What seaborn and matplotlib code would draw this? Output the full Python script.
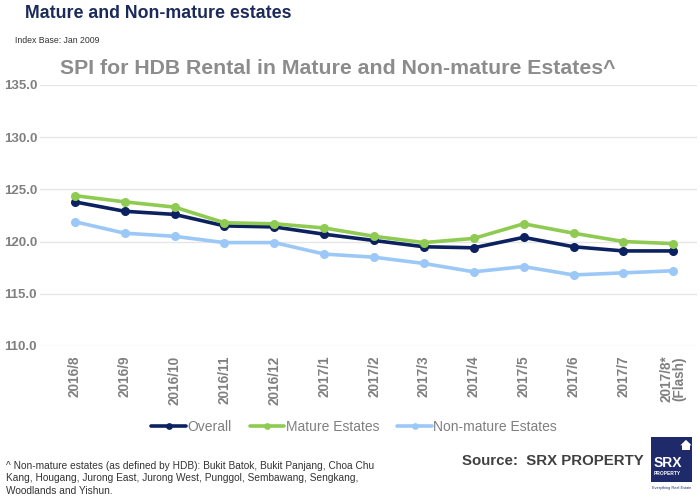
import pandas as pd
import numpy as np
import matplotlib
matplotlib.use('Agg')
import matplotlib.pyplot as plt
import seaborn as sns
from matplotlib.patches import Rectangle, Polygon

# Data
months = ['2016/8', '2016/9', '2016/10', '2016/11', '2016/12', '2017/1', '2017/2',
          '2017/3', '2017/4', '2017/5', '2017/6', '2017/7', '2017/8*\n(Flash)']
overall = [123.8, 122.9, 122.6, 121.5, 121.4, 120.7, 120.1, 119.5, 119.4, 120.4, 119.5, 119.1, 119.1]
mature = [124.4, 123.8, 123.3, 121.8, 121.7, 121.3, 120.5, 119.9, 120.3, 121.7, 120.8, 120.0, 119.8]
non_mature = [121.9, 120.8, 120.5, 119.9, 119.9, 118.8, 118.5, 117.9, 117.1, 117.6, 116.8, 117.0, 117.2]

series_names = ['Overall', 'Mature Estates', 'Non-mature Estates']
colors = ['#0c2160', '#8fcb52', '#9cc8f8']

df = pd.DataFrame({
    'pos': list(range(len(months))) * 3,
    'value': overall + mature + non_mature,
    'series': [s for s in series_names for _ in months],
})

sns.set_style("white")
plt.rcParams['font.family'] = ['Liberation Sans', 'DejaVu Sans']

fig = plt.figure(figsize=(7, 4.97), dpi=100)
ax = fig.add_axes([0.057, 0.304, 0.939, 0.525])

sns.lineplot(data=df, x='pos', y='value', hue='series', hue_order=series_names,
             palette=colors, marker='o', markersize=6.5, markeredgewidth=0,
             linewidth=2.6, ax=ax, legend=True)

yticks = [110, 115, 120, 125, 130, 135]
ax.set_ylim(110, 135)
ax.set_xlim(-0.7, 12.48)
ax.set_yticks(yticks)
ax.set_yticklabels([f'{v:.1f}' for v in yticks],
                   fontsize=9.5, fontweight='bold', color='#808080')
ax.set_xticks(range(len(months)))
ax.set_xticklabels(months, rotation=90, fontsize=9.8, fontweight='bold',
                   color='#808080', linespacing=0.9)
ax.tick_params(axis='y', length=0, pad=2)
ax.tick_params(axis='x', length=0, pad=7)
ax.set_xlabel('')
ax.set_ylabel('')
ax.grid(axis='y', color='#e6e6e6', linewidth=1)
for s in ax.spines.values():
    s.set_visible(False)

handles, labels = ax.get_legend_handles_labels()
ax.get_legend().remove()
leg = fig.legend(handles, labels, loc='center', bbox_to_anchor=(0.506, 0.141), ncol=3,
                 frameon=False, fontsize=10, handlelength=2.5, handletextpad=0.1,
                 columnspacing=1.3, markerscale=0.75)
for t in leg.get_texts():
    t.set_color('#7f7f7f')

# Titles
fig.text(0.036, 0.99, 'Mature and Non-mature estates', fontsize=12.8,
         fontweight='bold', color='#1b2a5a', va='top')
fig.text(0.021, 0.918, 'Index Base: Jan 2009', fontsize=6.3, color='#333333', va='center')
fig.text(0.483, 0.862, 'SPI for HDB Rental in Mature and Non-mature Estates^',
         fontsize=15.3, fontweight='bold', color='#8c8c8c', ha='center', va='center')

# Footnote and source
fig.text(0.008, 0.038, '^ Non-mature estates (as defined by HDB): Bukit Batok, Bukit Panjang, Choa Chu\n'
         'Kang, Hougang, Jurong East, Jurong West, Punggol, Sembawang, Sengkang,\n'
         'Woodlands and Yishun.', fontsize=7.3, color='#333333', va='center',
         linespacing=1.3)
fig.text(0.66, 0.073, 'Source:  SRX PROPERTY', fontsize=10.8, fontweight='bold',
         color='#404040', va='center')

# Logo
fig.patches.append(Rectangle((0.930, 0.030), 0.059, 0.091, transform=fig.transFigure,
                             facecolor='#1f2a6b', edgecolor='none'))
fig.patches.append(Polygon([(0.972, 0.104), (0.980, 0.115), (0.988, 0.104)],
                           closed=True, transform=fig.transFigure,
                           facecolor='white', edgecolor='none'))
fig.patches.append(Rectangle((0.974, 0.094), 0.012, 0.011, transform=fig.transFigure,
                             facecolor='white', edgecolor='none'))
fig.text(0.933, 0.068, 'SRX', fontsize=10, fontweight='bold', color='white', va='center')
fig.text(0.934, 0.047, 'PROPERTY', fontsize=3.5, fontweight='bold', color='white', va='center')
fig.text(0.932, 0.018, 'Everything Real Estate', fontsize=2.8, color='#1f2a6b', va='center')

fig.savefig('out.png', dpi=100)
